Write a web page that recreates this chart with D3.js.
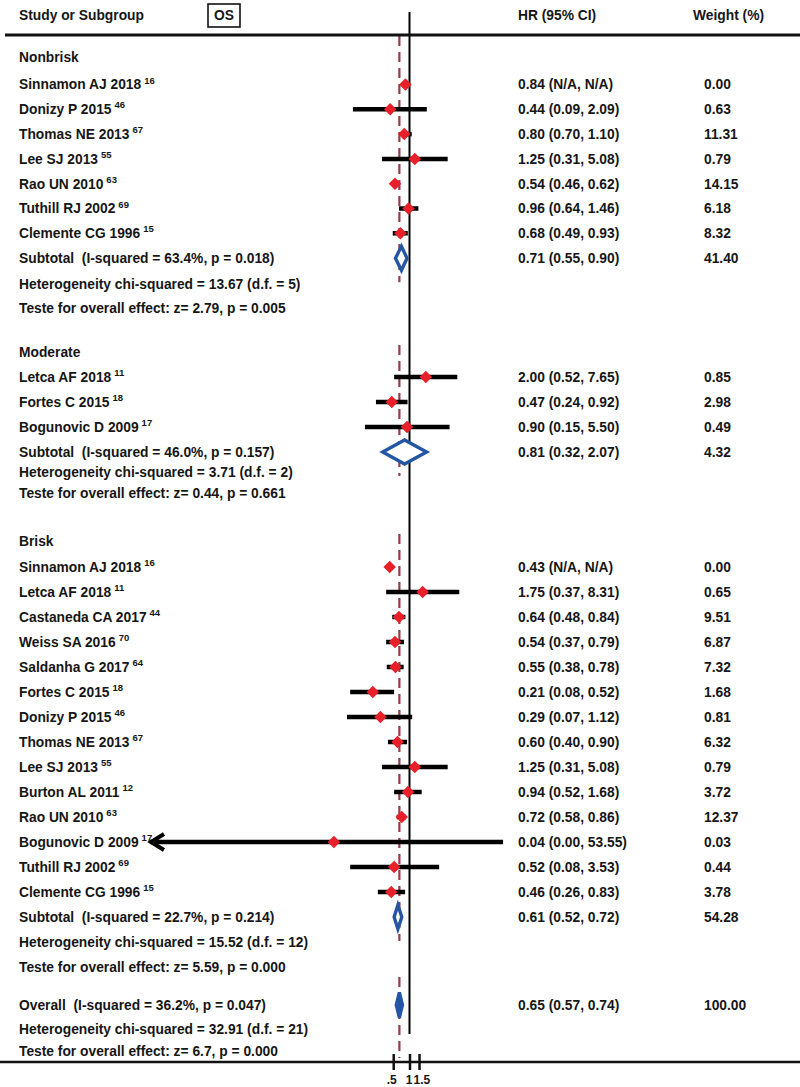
<!DOCTYPE html>
<html><head><meta charset="utf-8">
<script src="https://cdn.jsdelivr.net/npm/d3@7/dist/d3.min.js"></script>
<style>
body{margin:0;background:#fff;}
svg text{font-family:"Liberation Sans",Arial,Helvetica,sans-serif;font-weight:bold;fill:#161616;white-space:pre;}
</style></head><body>
<svg id="chart" width="800" height="1087"></svg>
<script>
// ---------- DATA ----------
const groupNames = ["Nonbrisk", "Moderate", "Brisk"];

const nonbriskStudies = ["Sinnamon AJ 2018", "Donizy P 2015", "Thomas NE 2013", "Lee SJ 2013", "Rao UN 2010", "Tuthill RJ 2002", "Clemente CG 1996"];
const nonbriskRefs    = ["16", "46", "67", "55", "63", "69", "15"];
const nonbriskHR      = [0.84, 0.44, 0.80, 1.25, 0.54, 0.96, 0.68];
const nonbriskLo      = [null, 0.09, 0.70, 0.31, 0.46, 0.64, 0.49];
const nonbriskHi      = [null, 2.09, 1.10, 5.08, 0.62, 1.46, 0.93];
const nonbriskWeight  = ["0.00", "0.63", "11.31", "0.79", "14.15", "6.18", "8.32"];

const moderateStudies = ["Letca AF 2018", "Fortes C 2015", "Bogunovic D 2009"];
const moderateRefs    = ["11", "18", "17"];
const moderateHR      = [2.00, 0.47, 0.90];
const moderateLo      = [0.52, 0.24, 0.15];
const moderateHi      = [7.65, 0.92, 5.50];
const moderateWeight  = ["0.85", "2.98", "0.49"];

const briskStudies = ["Sinnamon AJ 2018", "Letca AF 2018", "Castaneda CA 2017", "Weiss SA 2016", "Saldanha G 2017", "Fortes C 2015", "Donizy P 2015", "Thomas NE 2013", "Lee SJ 2013", "Burton AL 2011", "Rao UN 2010", "Bogunovic D 2009", "Tuthill RJ 2002", "Clemente CG 1996"];
const briskRefs    = ["16", "11", "44", "70", "64", "18", "46", "67", "55", "12", "63", "17", "69", "15"];
const briskHR      = [0.43, 1.75, 0.64, 0.54, 0.55, 0.21, 0.29, 0.60, 1.25, 0.94, 0.72, 0.04, 0.52, 0.46];
const briskLo      = [null, 0.37, 0.48, 0.37, 0.38, 0.08, 0.07, 0.40, 0.31, 0.52, 0.58, 0.00, 0.08, 0.26];
const briskHi      = [null, 8.31, 0.84, 0.79, 0.78, 0.52, 1.12, 0.90, 5.08, 1.68, 0.86, 53.55, 3.53, 0.83];
const briskWeight  = ["0.00", "0.65", "9.51", "6.87", "7.32", "1.68", "0.81", "6.32", "0.79", "3.72", "12.37", "0.03", "0.44", "3.78"];

const subtotalLabels = ["Subtotal  (I-squared = 63.4%, p = 0.018)", "Subtotal  (I-squared = 46.0%, p = 0.157)", "Subtotal  (I-squared = 22.7%, p = 0.214)"];
const subtotalHR     = [0.71, 0.81, 0.61];
const subtotalLo     = [0.55, 0.32, 0.52];
const subtotalHi     = [0.90, 2.07, 0.72];
const subtotalWeight = ["41.40", "4.32", "54.28"];
const heterogeneityLabels = ["Heterogeneity chi-squared = 13.67 (d.f. = 5)", "Heterogeneity chi-squared = 3.71 (d.f. = 2)", "Heterogeneity chi-squared = 15.52 (d.f. = 12)"];
const effectLabels = ["Teste for overall effect: z= 2.79, p = 0.005", "Teste for overall effect: z= 0.44, p = 0.661", "Teste for overall effect: z= 5.59, p = 0.000"];

const overallLabel = "Overall  (I-squared = 36.2%, p = 0.047)";
const overallHR = 0.65, overallLo = 0.57, overallHi = 0.74, overallWeight = "100.00";
const overallHeterogeneity = "Heterogeneity chi-squared = 32.91 (d.f. = 21)";
const overallEffect = "Teste for overall effect: z= 6.7, p = 0.000";

const headerLabels = ["Study or Subgroup", "OS", "HR (95% CI)", "Weight (%)"];
const tickValues = [0.5, 1, 1.5];
const tickLabels = [".5", "1", "1.5"];

// ---------- LAYOUT ----------
const W = 800, H = 1087;
const FS = 13.8;
const labelX = 19, hrX = 518, wX = 704;
const pxPerLn = 23.5, xOne = 409.5;
const dMin = 1.6e-5, dMax = 100;
const x = d3.scaleLog().domain([dMin, dMax])
  .range([xOne + Math.log(dMin) * pxPerLn, xOne + Math.log(dMax) * pxPerLn]).clamp(true);

const fmt = d3.format(".2f");
const ciText = (hr, lo, hi) => lo == null ? `${fmt(hr)} (N/A, N/A)` : `${fmt(hr)} (${fmt(lo)}, ${fmt(hi)})`;

const groups = [
  {name: groupNames[0], studies: nonbriskStudies, refs: nonbriskRefs, hr: nonbriskHR, lo: nonbriskLo, hi: nonbriskHi, w: nonbriskWeight},
  {name: groupNames[1], studies: moderateStudies, refs: moderateRefs, hr: moderateHR, lo: moderateLo, hi: moderateHi, w: moderateWeight},
  {name: groupNames[2], studies: briskStudies, refs: briskRefs, hr: briskHR, lo: briskLo, hi: briskHi, w: briskWeight}
];
// vertical layout per group: [headerY, firstStudyGap, studyStep, subtotalGap, hetGap, testGap]
const groupLayout = [
  [57, 27.5, 24.8, 25, 25.5, 24.5],
  [352, 25, 25, 25, 20, 21.5],
  [541, 26, 25, 25, 25, 25]
];
const dashSegments = [];

const svg = d3.select("#chart");
svg.append("rect").attr("width", W).attr("height", H).attr("fill", "#fff");

const gRef = svg.append("g");
const gLines = svg.append("g");
const gMarks = svg.append("g");
const gText = svg.append("g");

// header
gText.append("text").attr("x", labelX).attr("y", 15).attr("dy", "0.35em").attr("font-size", FS).text(headerLabels[0]);
gText.append("rect").attr("x", 208).attr("y", 4).attr("width", 32).attr("height", 23)
  .attr("fill", "none").attr("stroke", "#111").attr("stroke-width", 1.6);
gText.append("text").attr("x", 224).attr("y", 15.5).attr("dy", "0.35em").attr("text-anchor", "middle").attr("font-size", FS).text(headerLabels[1]);
gText.append("text").attr("x", hrX).attr("y", 15).attr("dy", "0.35em").attr("font-size", FS).text(headerLabels[2]);
gText.append("text").attr("x", 693).attr("y", 15).attr("dy", "0.35em").attr("font-size", FS).text(headerLabels[3]);
gText.append("line").attr("x1", 5).attr("x2", W).attr("y1", 35).attr("y2", 35)
  .attr("stroke", "#111").attr("stroke-width", 3);

function label(y, txt, sup) {
  const t = gText.append("text").attr("x", labelX).attr("y", y).attr("dy", "0.35em")
    .attr("font-size", FS).attr("xml:space", "preserve").text(txt);
  if (sup) t.append("tspan").attr("dx", 3).attr("dy", "-0.6em").attr("font-size", 9.5).text(sup);
}
function rightCols(y, hrTxt, wTxt) {
  gText.append("text").attr("x", hrX).attr("y", y).attr("dy", "0.35em").attr("font-size", FS).text(hrTxt);
  gText.append("text").attr("x", wX).attr("y", y).attr("dy", "0.35em").attr("font-size", FS).text(wTxt);
}
function diamond(y, hr, lo, hi, h, filled) {
  const p = d3.path();
  p.moveTo(x(lo), y); p.lineTo(x(hr), y - h / 2); p.lineTo(x(hi), y); p.lineTo(x(hr), y + h / 2); p.closePath();
  gMarks.append("path").attr("d", p.toString()).attr("fill", filled ? "#2456a4" : "#fff")
    .attr("stroke", "#2456a4").attr("stroke-width", 3.4).attr("stroke-linejoin", "miter");
}
const marker = d3.symbol().type(d3.symbolSquare).size(78);

groups.forEach((g, gi) => {
  const L = groupLayout[gi];
  let y = L[0];
  label(y, g.name);
  const segStart = gi === 0 ? 36 : y - 7;
  y += L[1];
  g.studies.forEach((s, i) => {
    if (i > 0) y += L[2];
    label(y, s, g.refs[i]);
    rightCols(y, ciText(g.hr[i], g.lo[i], g.hi[i]), g.w[i]);
    if (g.lo[i] != null) {
      const xl = x(g.lo[i]), xh = x(g.hi[i]);
      gLines.append("line").attr("x1", xl).attr("x2", xh).attr("y1", y).attr("y2", y)
        .attr("stroke", "#000").attr("stroke-width", 4.5);
      if (g.lo[i] < dMin) {
        gLines.append("path").attr("d", `M${xl + 14},${y - 8}L${xl + 1},${y}L${xl + 14},${y + 8}`)
          .attr("fill", "none").attr("stroke", "#000").attr("stroke-width", 4);
      }
    }
    gMarks.append("path").attr("d", marker)
      .attr("transform", `translate(${x(g.hr[i])},${y}) rotate(45)`)
      .attr("fill", "#e8202a");
  });
  y += L[3];
  label(y, subtotalLabels[gi]);
  rightCols(y, ciText(subtotalHR[gi], subtotalLo[gi], subtotalHi[gi]), subtotalWeight[gi]);
  diamond(y, subtotalHR[gi], subtotalLo[gi], subtotalHi[gi], 24, false);
  dashSegments.push([segStart, y + 24]);
  y += L[4];
  label(y, heterogeneityLabels[gi]);
  y += L[5];
  label(y, effectLabels[gi]);
});

// overall
const yo = 1005;
label(yo, overallLabel);
rightCols(yo, ciText(overallHR, overallLo, overallHi), overallWeight);
diamond(yo, overallHR, overallLo, overallHi, 25, true);
dashSegments.push([977, 1058]);
label(1029, overallHeterogeneity);
label(1051, overallEffect);

// reference lines
gRef.append("line").attr("x1", x(1)).attr("x2", x(1)).attr("y1", 12).attr("y2", 1034)
  .attr("stroke", "#000").attr("stroke-width", 2);
dashSegments.forEach(([a, b]) => {
  gRef.append("line").attr("x1", x(overallHR)).attr("x2", x(overallHR)).attr("y1", a).attr("y2", b)
    .attr("stroke", "#9a3a46").attr("stroke-width", 2.2).attr("stroke-dasharray", "10,6");
});

// axis
const axisY = 1062;
svg.append("line").attr("x1", 0).attr("x2", W).attr("y1", axisY).attr("y2", axisY)
  .attr("stroke", "#111").attr("stroke-width", 2.5);
const axis = d3.axisBottom(x).tickValues(tickValues)
  .tickFormat((d, i) => tickLabels[i]).tickSize(8).tickPadding(5);
const ga = svg.append("g").attr("transform", `translate(0,${axisY})`).call(axis);
ga.select(".domain").remove();
ga.selectAll(".tick line").attr("y1", -8).attr("y2", 8).attr("stroke", "#111").attr("stroke-width", 2.5);
ga.selectAll(".tick text").attr("font-size", 12).attr("font-family", "Liberation Sans, Arial, sans-serif")
  .attr("font-weight", "bold").attr("fill", "#161616")
  .attr("text-anchor", (d, i) => i === 2 ? "start" : "middle")
  .attr("dx", (d, i) => i === 2 ? -6 : (i === 0 ? -2 : -1));
</script>
</body></html>
